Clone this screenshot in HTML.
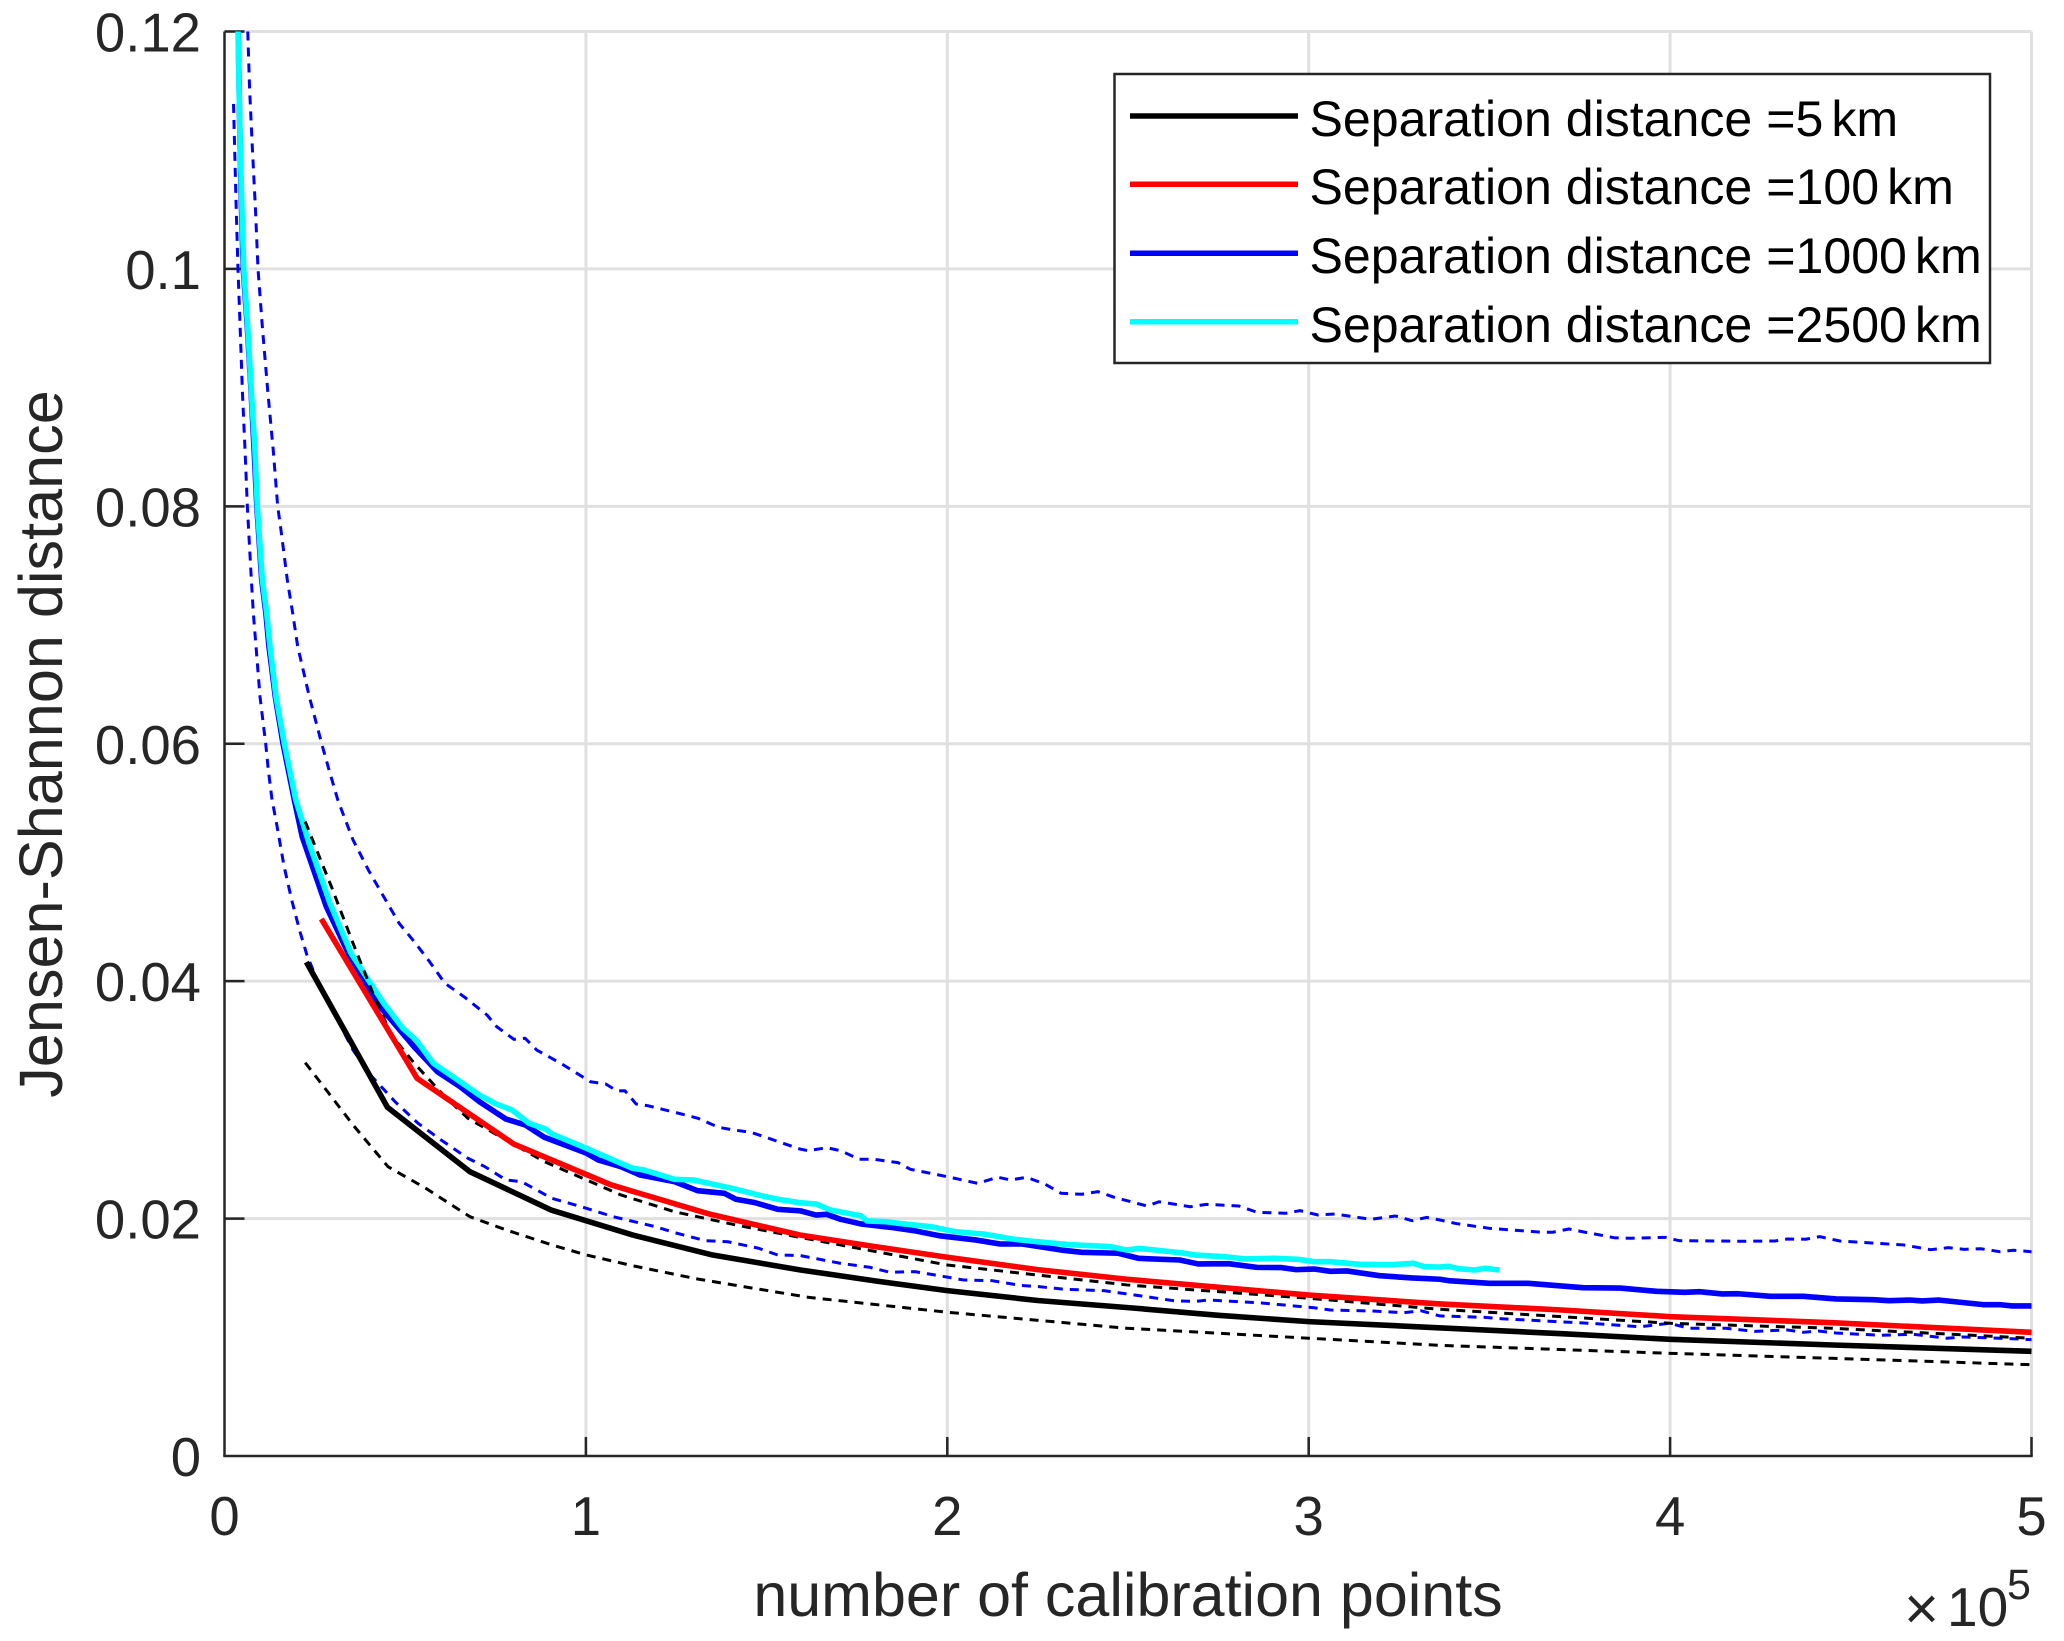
<!DOCTYPE html>
<html lang="en">
<head>
<meta charset="utf-8">
<title>Jensen-Shannon distance vs number of calibration points</title>
<style>
html,body{margin:0;padding:0;background:#fff;width:2064px;height:1641px;overflow:hidden}
svg{display:block}
text{font-family:"Liberation Sans",Arial,sans-serif}
</style>
</head>
<body>
<svg id="chart" xmlns="http://www.w3.org/2000/svg" width="2064" height="1641" viewBox="0 0 2064 1641">
<rect x="0" y="0" width="2064" height="1641" fill="#ffffff"/>
<g id="grid"></g>
<g id="axes"></g>
<g id="series"></g>
<text transform="translate(62,744) rotate(-90)" text-anchor="middle" font-size="61.2" fill="#262626">Jensen-Shannon distance</text>
<text x="1128" y="1616" text-anchor="middle" font-size="61" fill="#262626">number of calibration points</text>
<g fill="#262626">
<text x="1904" y="1629" font-size="60">×</text>
<text x="1947" y="1626" font-size="55">10</text>
<text x="2007" y="1599" font-size="43">5</text>
</g>
<g>
<rect x="1114.5" y="74" width="875.5" height="289" fill="#ffffff" stroke="#262626" stroke-width="2.5"/>
<g>
<line x1="1130" x2="1298" y1="116" y2="116" stroke="#000000" stroke-width="5.5"/>
<text x="1309.5" y="136" font-size="50.1" fill="#000">Separation distance =5<tspan dx="8">km</tspan></text>
</g>
<g>
<line x1="1130" x2="1298" y1="184.3" y2="184.3" stroke="#ff0000" stroke-width="5.5"/>
<text x="1309.5" y="204" font-size="50.1" fill="#000">Separation distance =100<tspan dx="8">km</tspan></text>
</g>
<g>
<line x1="1130" x2="1298" y1="253.3" y2="253.3" stroke="#0000ff" stroke-width="5.5"/>
<text x="1309.5" y="273" font-size="50.1" fill="#000">Separation distance =1000<tspan dx="8">km</tspan></text>
</g>
<g>
<line x1="1130" x2="1298" y1="321.7" y2="321.7" stroke="#00ffff" stroke-width="5.5"/>
<text x="1309.5" y="342" font-size="50.1" fill="#000">Separation distance =2500<tspan dx="8">km</tspan></text>
</g>
</g>
</svg>
<script>
const xTicks = [0, 1, 2, 3, 4, 5];
const yTicks = [0, 0.02, 0.04, 0.06, 0.08, 0.1, 0.12];
const xTickLabels = ['0', '1', '2', '3', '4', '5'];
const yTickLabels = ['0', '0.02', '0.04', '0.06', '0.08', '0.1', '0.12'];

const black5X = [.2266,.451,.679,.904,1.129,1.351,1.594,1.8,2.0,2.25,2.5,2.75,3.0,3.36,3.7,4.0,4.45,5.0];
const black5Y = [.0416,.02937,.02395,.02072,.01862,.01693,.01567,.01475,.01393,.0131,.0125,.01185,.01132,.0108,.0103,.00983,.00935,.00882];

const black5UpperX = [.2233,.2975,.3556,.4087,.4616,.525,.61,.6735,.779,.885,1.0125,1.097,1.245,1.415,1.592,2.0,2.497,3.0,3.363,4.0,4.448,5.0];
const black5UpperY = [.05344,.04783,.0432,.03912,.03547,.03308,.03027,.02845,.02662,.0248,.02311,.02199,.02058,.01946,.01842,.01609,.01441,.01329,.01236,.01118,.01076,.00992];

const black5LowerX = [.2233,.2817,.3556,.4524,.557,.679,.7795,.906,1.0017,1.129,1.309,1.615,2.0,2.497,3.0,3.363,4.0,4.448,5.0];
const black5LowerY = [.03313,.03083,.02789,.02437,.02255,.02016,.01904,.01778,.01693,.01603,.01491,.01337,.01211,.01076,.00992,.00932,.00865,.00823,.00769];

const red100X = [.2679,.5329,.8005,1.0706,1.3407,1.592,1.8,2.0,2.25,2.497,3.0,3.363,3.7,4.0,4.448,5.0];
const red100Y = [.04524,.03182,.02628,.02283,.02039,.01862,.01764,.01674,.0157,.01489,.01356,.01281,.0123,.01174,.01123,.01042];

const blue1000X = [.038,.043,.047,.052,.0634,.0737,.082,.0895,.103,.1145,.123,.1405,.162,.193,.215,.2817,.3556,.4303,.5244,.589,.652,.7053,.779,.832,.885,1.0017,1.034,1.097,1.15,1.245,1.309,1.383,1.415,1.468,1.531,1.594,1.637,1.666,1.705,1.761,1.852,1.908,1.977,2.078,2.146,2.207,2.315,2.372,2.473,2.53,2.643,2.694,2.778,2.857,2.925,2.965,3.015,3.06,3.106,3.196,3.286,3.363,3.387,3.5,3.607,3.759,3.862,3.963,4.04,4.081,4.144,4.188,4.278,4.369,4.459,4.561,4.606,4.663,4.697,4.742,4.866,4.912,4.946,5.0];
const blue1000Y = [.12,.1106,.1052,.1,.09498,.0896,.08475,.08,.0738,.071,.0682,.06397,.06,.0553,.05217,.04628,.0415,.03785,.03448,.03238,.03111,.02985,.02838,.02789,.02685,.02551,.02494,.02437,.02367,.02311,.02235,.02213,.02163,.02134,.02078,.02065,.0203,.02036,.01994,.01955,.01923,.01898,.01856,.0182,.01786,.01786,.01735,.01716,.01708,.01665,.01651,.01618,.0162,.01589,.01587,.0157,.01575,.01556,.01559,.01519,.015,.01489,.01477,.01455,.01455,.01418,.01415,.01387,.01379,.01384,.01365,.01367,.01345,.01345,.01323,.01317,.01308,.01314,.01306,.01314,.01275,.01275,.01264,.01264];

const blue1000UpperX = [.0644,.0694,.0764,.0854,.0927,.1051,.12,.1348,.1472,.1563,.1738,.1887,.2025,.2347,.269,.2892,.3132,.324,.3556,.398,.4405,.483,.525,.5675,.61,.6627,.7264,.753,.8005,.832,.864,.938,1.0125,1.055,1.086,1.108,1.139,1.171,1.245,1.31,1.367,1.41,1.457,1.592,1.615,1.666,1.705,1.756,1.796,1.864,1.898,2.0,2.084,2.14,2.175,2.219,2.27,2.315,2.372,2.417,2.462,2.553,2.586,2.672,2.717,2.807,2.857,2.937,2.976,3.026,3.072,3.172,3.24,3.286,3.326,3.363,3.41,3.5,3.645,3.675,3.72,3.765,3.845,3.89,3.986,4.025,4.2,4.29,4.324,4.375,4.414,4.47,4.646,4.72,4.77,4.815,4.86,4.912,4.95,5.0];
const blue1000UpperY = [.12,.1152,.1106,.1052,.1,.09498,.0896,.08475,.08,.078,.0738,.071,.0682,.06397,.06,.0578,.0553,.05442,.0519,.04937,.04712,.04488,.04333,.04164,.03982,.03869,.03715,.03617,.0351,.03519,.0342,.03294,.03153,.03134,.03075,.03077,.02965,.02951,.02896,.02845,.02769,.02746,.02727,.02586,.02572,.02597,.02572,.025,.025,.02471,.02415,.02353,.02297,.02348,.02325,.02348,.02291,.02213,.02205,.02227,.02179,.02106,.02142,.021,.0212,.02106,.02053,.02045,.02067,.0203,.02039,.01994,.02022,.01982,.0201,.01988,.01957,.01918,.01885,.01885,.01912,.01885,.01839,.01834,.01842,.01814,.01809,.01811,.01828,.01826,.01848,.01811,.01778,.01738,.01755,.01741,.01746,.01721,.01733,.01721];

const blue1000LowerX = [.0249,.0323,.0373,.0434,.0496,.0568,.0632,.0743,.0798,.0872,.0982,.114,.1212,.1314,.1439,.165,.186,.2075,.228,.26,.303,.3556,.408,.4718,.5354,.5993,.6735,.7208,.779,.8218,.906,1.0017,1.075,1.192,1.245,1.33,1.393,1.478,1.531,1.592,1.705,1.785,1.841,1.91,1.977,2.044,2.124,2.2,2.253,2.326,2.433,2.518,2.632,2.688,2.72,2.79,2.87,2.96,3.015,3.06,3.172,3.263,3.31,3.363,3.488,3.528,3.657,3.793,3.917,3.998,4.053,4.155,4.234,4.324,4.369,4.41,4.459,4.58,4.674,4.765,4.81,4.946,5.0];
const blue1000LowerY = [.1139,.1052,.1,.09498,.0896,.08475,.08,.0738,.071,.0682,.06397,.06,.0578,.0553,.0533,.04965,.04684,.04431,.04221,.03982,.03732,.0342,.03196,.02985,.02803,.02662,.02508,.02437,.02325,.02311,.02171,.02087,.02016,.01932,.01882,.01814,.01805,.0175,.01693,.01689,.01623,.0159,.01548,.01553,.01519,.01483,.01477,.01438,.01427,.01404,.01393,.01356,.01306,.01303,.01314,.01303,.01289,.01264,.01249,.0123,.01222,.01207,.01224,.0118,.01168,.01157,.01137,.01115,.01089,.01118,.01076,.01076,.0105,.01062,.01042,.01053,.01036,.01017,.01025,.00992,.01003,.00988,.0098];

const cyan2500X = [.0373,.0432,.0482,.0532,.0645,.0745,.0842,.0908,.1047,.1167,.1259,.1425,.1655,.197,.2338,.2919,.35,.398,.4405,.4934,.53,.578,.652,.7053,.7477,.7955,.8425,.89,.906,.991,1.065,1.129,1.16,1.245,1.298,1.404,1.489,1.531,1.592,1.637,1.677,1.761,1.778,1.83,1.864,1.954,2.021,2.1,2.18,2.236,2.338,2.45,2.496,2.53,2.643,2.688,2.767,2.824,2.902,2.97,3.015,3.06,3.14,3.23,3.29,3.32,3.363,3.387,3.415,3.46,3.488,3.528];
const cyan2500Y = [.12,.1106,.1052,.1,.09498,.0896,.08475,.08,.0738,.071,.0682,.06397,.06,.0553,.05162,.04656,.04235,.0401,.03814,.03603,.03505,.03308,.03153,.03041,.02971,.02915,.02803,.02752,.02713,.02606,.02508,.02424,.0241,.02331,.02325,.02255,.0219,.02163,.02134,.02123,.02072,.02024,.0198,.01974,.0196,.01932,.0189,.0187,.01828,.01809,.0178,.01764,.01735,.01749,.01713,.01693,.01679,.0166,.01665,.01657,.01637,.01637,.01615,.01612,.01623,.01595,.01592,.01598,.01578,.01567,.01581,.01567];

const NS = 'http://www.w3.org/2000/svg';
const plotLeft = 224.5, plotRight = 2031.5, plotTop = 31.5, plotBottom = 1456;
const xMax = 5, yMax = 0.12;
function xScale(v) { return plotLeft + (v / xMax) * (plotRight - plotLeft); }
function yScale(v) { return plotBottom - (v / yMax) * (plotBottom - plotTop); }
function make(tag, attrs) {
  const el = document.createElementNS(NS, tag);
  for (const k in attrs) el.setAttribute(k, attrs[k]);
  return el;
}
const gridG = document.getElementById('grid');
const axesG = document.getElementById('axes');
const seriesG = document.getElementById('series');

xTicks.forEach(function (t, i) {
  const px = xScale(t);
  if (i > 0) {
    const g = make('line', {x1: px, x2: px, y1: plotTop, y2: plotBottom, stroke: '#e0e0e0', 'stroke-width': 3});
    
    
    gridG.appendChild(g);
    const tick = make('line', {x1: px, x2: px, y1: plotBottom, y2: plotBottom - 19, stroke: '#262626', 'stroke-width': 2.5});
    
    
    axesG.appendChild(tick);
  }
  const label = make('text', {x: px, y: 1535, 'text-anchor': 'middle', 'font-size': 54.5, fill: '#262626'});
  label.textContent = xTickLabels[i];
  
  
  axesG.appendChild(label);
});
yTicks.forEach(function (t, i) {
  const py = yScale(t);
  if (i > 0) {
    const g = make('line', {x1: plotLeft, x2: plotRight, y1: py, y2: py, stroke: '#e0e0e0', 'stroke-width': 3});
    
    
    gridG.appendChild(g);
    const tick = make('line', {x1: plotLeft, x2: plotLeft + 20, y1: py, y2: py, stroke: '#262626', 'stroke-width': 2.5});
    
    
    axesG.appendChild(tick);
  }
  const label = make('text', {x: 201, y: py + 20, 'text-anchor': 'end', 'font-size': 54.5, fill: '#262626'});
  label.textContent = yTickLabels[i];
  
  
  axesG.appendChild(label);
});
const xAxisLine = make('line', {x1: plotLeft - 1.25, x2: plotRight + 1.25, y1: plotBottom, y2: plotBottom, stroke: '#262626', 'stroke-width': 2.5});


axesG.appendChild(xAxisLine);
const yAxisLine = make('line', {x1: plotLeft, x2: plotLeft, y1: plotTop, y2: plotBottom, stroke: '#262626', 'stroke-width': 2.5});


axesG.appendChild(yAxisLine);

function pathFor(xs, ys) {
  return xs.map(function (v, i) { return xScale(v).toFixed(2) + ',' + yScale(ys[i]).toFixed(2); }).join(' ');
}
function drawDashed(xs, ys, color, name) {
  const el = make('polyline', {points: pathFor(xs, ys), fill: 'none', stroke: color, 'stroke-width': 3, 'stroke-dasharray': '9 7', 'stroke-linejoin': 'round'});
  
  
  seriesG.appendChild(el);
}
function drawSolid(xs, ys, color, name) {
  const el = make('polyline', {points: pathFor(xs, ys), fill: 'none', stroke: color, 'stroke-width': 5.6, 'stroke-linejoin': 'round'});
  
  
  seriesG.appendChild(el);
}
drawDashed(blue1000UpperX, blue1000UpperY, '#0000ff', 'series-1000km-upper-bound');
drawDashed(blue1000LowerX, blue1000LowerY, '#0000ff', 'series-1000km-lower-bound');
drawSolid(blue1000X, blue1000Y, '#0000ff', 'series-1000km');
drawSolid(cyan2500X, cyan2500Y, '#00ffff', 'series-2500km');
drawDashed(black5UpperX, black5UpperY, '#000000', 'series-5km-upper-bound');
drawDashed(black5LowerX, black5LowerY, '#000000', 'series-5km-lower-bound');
drawSolid(black5X, black5Y, '#000000', 'series-5km');
drawSolid(red100X, red100Y, '#ff0000', 'series-100km');
</script>
</body>
</html>
